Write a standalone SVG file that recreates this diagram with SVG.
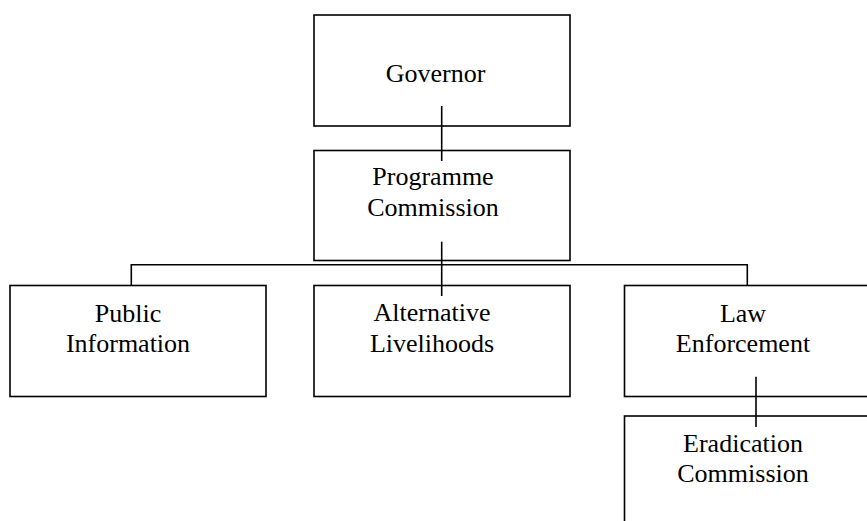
<svg xmlns="http://www.w3.org/2000/svg" width="867" height="521" viewBox="0 0 867 521">
<style>
.box{fill:#fff;stroke:#000;stroke-width:1.6}
.ln{stroke:#000;stroke-width:1.6;fill:none}
text{font-family:"Liberation Serif","Times New Roman",serif;font-size:26px;fill:#000;text-anchor:middle}
</style>
<rect width="867" height="521" fill="#fff"/>
<g id="governor"><rect class="box" x="314" y="15" width="256" height="111"/><text x="435.5" y="81.5">Governor</text></g>
<g id="programme"><rect class="box" x="314" y="150.5" width="256" height="110"/><text x="433" y="185">Programme</text><text x="433" y="216">Commission</text></g>
<g id="public"><rect class="box" x="10" y="285.5" width="256" height="111"/><text x="128" y="321.5">Public</text><text x="128" y="351.5">Information</text></g>
<g id="alternative"><rect class="box" x="314" y="285.5" width="256" height="111"/><text x="432" y="321">Alternative</text><text x="432" y="351.5">Livelihoods</text></g>
<g id="law"><rect class="box" x="624.5" y="285.5" width="260" height="111"/><text x="743" y="321.5">Law</text><text x="743" y="351.5">Enforcement</text></g>
<g id="eradication"><rect class="box" x="624.5" y="416" width="260" height="130"/><text x="743" y="451.5">Eradication</text><text x="743" y="481.5">Commission</text></g>
<g id="connectors">
<path class="ln" d="M441.7 106V161"/>
<path class="ln" d="M441.7 241.7V296"/>
<path class="ln" d="M131.3 285.5V264.8H747.3V285.5"/>
<path class="ln" d="M756 376.7V427"/>
</g>
</svg>
